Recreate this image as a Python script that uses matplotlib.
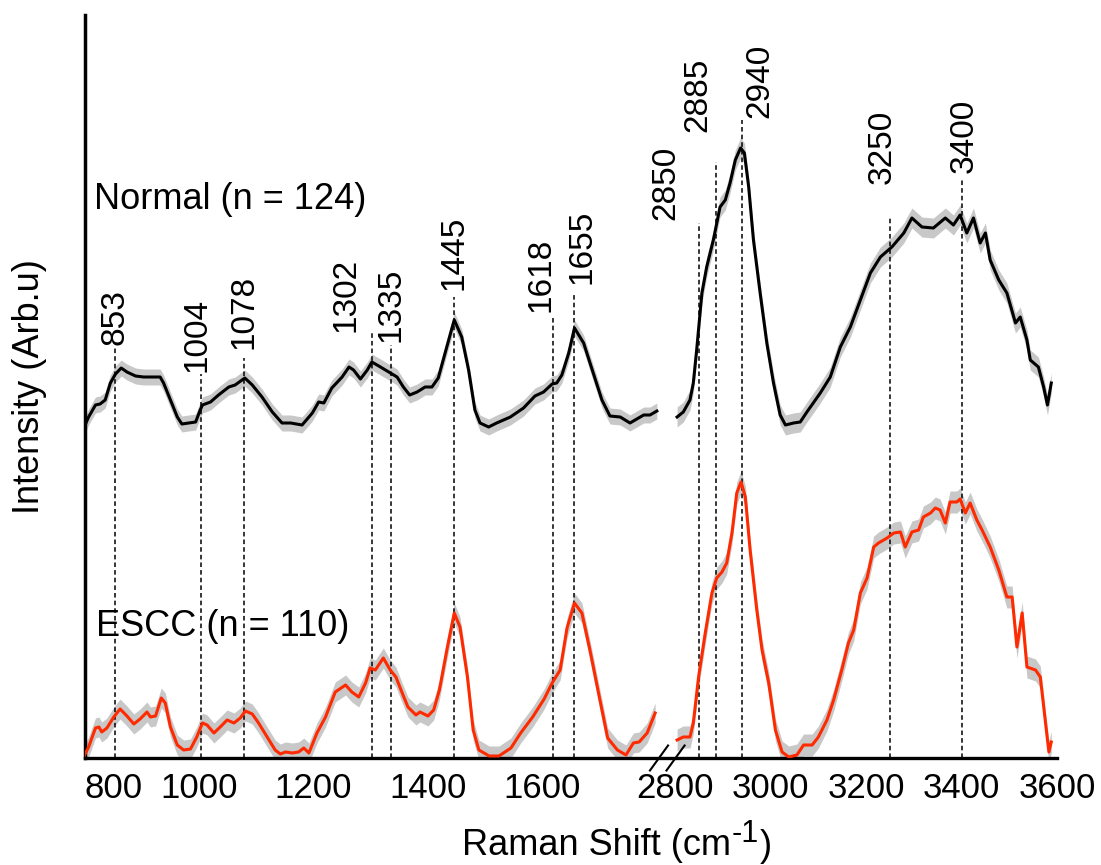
import numpy as np
import matplotlib
matplotlib.use("Agg")
import matplotlib.pyplot as plt

plt.rcParams['font.family'] = ['Liberation Sans', 'DejaVu Sans']

# Средние спектры (левая часть: 800-1800, правая часть: 2800-3600)
normal_left_wn = [800, 807, 819, 827, 836, 845, 854, 864, 874, 889, 903, 918, 932, 938, 950, 962, 970, 982, 994, 1002,
                  1006, 1020, 1034, 1052, 1063, 1080, 1093, 1110, 1128, 1145, 1160, 1180, 1198, 1209, 1218, 1232, 1250,
                  1262, 1270, 1282, 1294, 1302, 1317, 1346, 1357, 1368, 1381, 1395, 1407, 1418, 1430, 1442, 1446, 1459,
                  1471, 1482, 1491, 1506, 1520, 1544, 1567, 1587, 1602, 1617, 1625, 1634, 1646, 1656, 1672, 1686, 1704,
                  1718, 1736, 1753, 1765, 1777, 1788, 1800]
normal_left_int = [3.32, 3.41, 3.53, 3.54, 3.58, 3.75, 3.84, 3.90, 3.86, 3.82, 3.81, 3.81, 3.81, 3.75, 3.58, 3.41, 3.34,
                   3.35, 3.36, 3.48, 3.53, 3.56, 3.63, 3.71, 3.73, 3.80, 3.73, 3.61, 3.46, 3.35, 3.35, 3.33, 3.45, 3.56,
                   3.55, 3.70, 3.81, 3.91, 3.88, 3.79, 3.88, 3.96, 3.91, 3.81, 3.71, 3.63, 3.66, 3.71, 3.71, 3.80, 4.05,
                   4.30, 4.38, 4.21, 3.88, 3.48, 3.35, 3.31, 3.35, 3.41, 3.50, 3.62, 3.66, 3.74, 3.75, 3.83, 4.05, 4.30,
                   4.15, 3.90, 3.58, 3.42, 3.41, 3.35, 3.39, 3.43, 3.43, 3.47]

normal_right_wn = [2804, 2817, 2831, 2838, 2845, 2856, 2866, 2880, 2894, 2905, 2915, 2926, 2937, 2945, 2954, 2964, 2978,
                   2992, 3006, 3020, 3031, 3048, 3062, 3076, 3104, 3125, 3146, 3167, 3188, 3209, 3230, 3254, 3279, 3296,
                   3317, 3341, 3366, 3383, 3397, 3411, 3425, 3439, 3450, 3460, 3478, 3495, 3513, 3523, 3537, 3544, 3561,
                   3572, 3580, 3588]
normal_right_int = [3.41, 3.46, 3.58, 3.75, 4.08, 4.65, 4.91, 5.18, 5.51, 5.58, 5.75, 5.98, 6.10, 6.05, 5.71, 5.18, 4.65,
                    4.15, 3.75, 3.43, 3.33, 3.35, 3.36, 3.46, 3.65, 3.81, 4.11, 4.31, 4.58, 4.85, 5.01, 5.11, 5.25, 5.40,
                    5.31, 5.30, 5.40, 5.33, 5.43, 5.25, 5.40, 5.15, 5.25, 4.98, 4.78, 4.65, 4.35, 4.41, 4.18, 3.98, 3.91,
                    3.71, 3.53, 3.75]

escc_left_wn = [800, 807, 819, 825, 830, 839, 851, 862, 874, 886, 897, 909, 915, 924, 934, 941, 950, 962, 973, 985,
                996, 1006, 1014, 1026, 1037, 1049, 1061, 1072, 1081, 1093, 1104, 1119, 1133, 1142, 1151, 1163, 1174,
                1183, 1192, 1206, 1221, 1238, 1256, 1267, 1279, 1291, 1299, 1308, 1322, 1334, 1344, 1355, 1365, 1379,
                1386, 1400, 1410, 1420, 1434, 1446, 1456, 1469, 1479, 1489, 1507, 1524, 1545, 1562, 1583, 1603, 1617,
                1631, 1643, 1656, 1669, 1683, 1697, 1714, 1731, 1746, 1759, 1769, 1783, 1797]
escc_left_int = [0.03, 0.11, 0.30, 0.31, 0.26, 0.30, 0.41, 0.49, 0.42, 0.34, 0.39, 0.46, 0.41, 0.42, 0.60, 0.55, 0.31,
                 0.13, 0.08, 0.09, 0.21, 0.35, 0.33, 0.25, 0.31, 0.38, 0.35, 0.40, 0.47, 0.44, 0.35, 0.21, 0.08, 0.04,
                 0.06, 0.05, 0.06, 0.10, 0.05, 0.25, 0.41, 0.66, 0.73, 0.66, 0.61, 0.75, 0.90, 0.88, 1.00, 0.88, 0.81,
                 0.65, 0.51, 0.43, 0.46, 0.42, 0.48, 0.68, 1.11, 1.45, 1.31, 0.81, 0.28, 0.08, 0.02, 0.02, 0.10, 0.25,
                 0.41, 0.59, 0.75, 0.88, 1.30, 1.55, 1.45, 1.08, 0.68, 0.20, 0.08, 0.03, 0.15, 0.16, 0.25, 0.45]

escc_right_wn = [2804, 2817, 2831, 2838, 2849, 2863, 2877, 2887, 2898, 2908, 2919, 2929, 2938, 2947, 2957, 2971, 2982,
                 2996, 3010, 3024, 3038, 3055, 3069, 3087, 3100, 3118, 3132, 3149, 3163, 3174, 3188, 3202, 3216, 3226,
                 3244, 3258, 3272, 3282, 3296, 3310, 3320, 3335, 3345, 3355, 3366, 3376, 3390, 3397, 3408, 3418, 3432,
                 3443, 3460, 3478, 3495, 3506, 3516, 3527, 3537, 3555, 3565, 3576, 3583, 3588]
escc_right_int = [0.18, 0.21, 0.21, 0.35, 0.81, 1.25, 1.65, 1.80, 1.86, 1.95, 2.25, 2.65, 2.76, 2.61, 2.08, 1.48, 1.08,
                  0.75, 0.28, 0.06, 0.01, 0.03, 0.13, 0.13, 0.21, 0.38, 0.58, 0.88, 1.15, 1.28, 1.65, 1.80, 2.11, 2.15,
                  2.20, 2.25, 2.26, 2.11, 2.26, 2.28, 2.41, 2.45, 2.50, 2.48, 2.35, 2.56, 2.56, 2.59, 2.45, 2.55, 2.38,
                  2.28, 2.11, 1.88, 1.61, 1.61, 1.11, 1.45, 0.91, 0.88, 0.81, 0.35, 0.06, 0.16]

# Стандартное отклонение (полоса)
normal_sd = [0.08, 0.10]
escc_sd = [0.10, 0.11]

# Пики
peaks = [853, 1004, 1078, 1302, 1335, 1445, 1618, 1655, 2850, 2885, 2940, 3250, 3400]
peak_tops = [4.11, 3.84, 4.00, 4.25, 4.13, 4.61, 4.41, 4.63, 5.35, 5.96, 6.38, 5.41, 5.78]
label_dx = [0, -4, 0, -26, 0, 0, -12, 8, -33, -18, 18, -8, 3]
label_dy = [2, 2, 9, 1, 3, 7, 5, 11, 3, 30, 2, 33, 7]

xticks = [800, 1000, 1200, 1400, 1600, 2800, 3000, 3200, 3400, 3600]


# Разрыв оси: 1800 -> 2800
def fwd(x):
    x = np.asarray(x, dtype=float)
    return np.where(x <= 1800, x,
                    np.where(x >= 2800, 1832 + (x - 2800) * 0.834, 1800 + (x - 1800) * 0.032))


def inv(u):
    u = np.asarray(u, dtype=float)
    return np.where(u <= 1800, u,
                    np.where(u >= 1832, 2800 + (u - 1832) / 0.834, 1800 + (u - 1800) / 0.032))


fig = plt.figure(figsize=(11.01, 8.65), dpi=100)
ax = fig.add_axes([84.6 / 1101, 107 / 865, 972.4 / 1101, 743 / 865])
ax.set_xscale('function', functions=(fwd, inv))

segments = [
    (normal_left_wn, normal_left_int, normal_sd[0], 'black'),
    (normal_right_wn, normal_right_int, normal_sd[1], 'black'),
    (escc_left_wn, escc_left_int, escc_sd[0], '#ff2a00'),
    (escc_right_wn, escc_right_int, escc_sd[1], '#ff2a00'),
]
for wn, inten, sd, col in segments:
    wn = np.array(wn)
    inten = np.array(inten)
    ax.fill_between(wn, inten - sd, inten + sd, color='#c8c8c8', lw=0, zorder=2)
    ax.plot(wn, inten, color=col, lw=2.2, zorder=4)

# Линии пиков и подписи
ax.vlines(peaks, 0, peak_tops, colors='black', linestyles=(0, (3, 2)), lw=1.1, zorder=3)
for p, top, dx, dy in zip(peaks, peak_tops, label_dx, label_dy):
    ax.annotate(str(p), xy=(p, top), xytext=(dx * 0.72, dy * 0.72), textcoords='offset points',
                rotation=90, ha='center', va='bottom', fontsize=24)

ax.text(816, 5.49, "Normal (n = 124)", fontsize=26, ha='left', va='baseline')
ax.text(820, 1.22, "ESCC (n = 110)", fontsize=26, ha='left', va='baseline')

ax.set_xlim(800, 3600)
ax.set_ylim(0, 7.43)
ax.set_xticks(xticks)
ax.set_xticklabels([str(t) for t in xticks])
ax.get_xticklabels()[0].set_horizontalalignment('left')
ax.set_yticks([])
ax.tick_params(axis='x', length=0, pad=10, labelsize=25)
ax.spines['top'].set_visible(False)
ax.spines['right'].set_visible(False)
ax.spines['left'].set_linewidth(2.5)
ax.spines['bottom'].set_linewidth(2.4)

# Знак разрыва
for cx in (0.5907, 0.6077):
    ax.plot([cx - 0.0093, cx + 0.0093], [-0.0168, 0.0168], color='black', lw=1.5,
            transform=ax.transAxes, clip_on=False, zorder=5)

# Подписи осей
fig.text(30 / 1101, 1 - 387 / 865, "Intensity (Arb.u)", rotation=90, ha='center', va='center', fontsize=26)
t1 = fig.text(462 / 1101, 1 - 855 / 865, "Raman Shift (cm", fontsize=26, ha='left', va='baseline')
sup = ax.annotate("-1", xy=(1, 0), xycoords=t1, xytext=(0.5, 14.8), textcoords='offset points',
                  fontsize=22, ha='left', va='baseline', annotation_clip=False)
ax.annotate(")", xy=(1, 0), xycoords=sup, xytext=(0.5, -4.7), textcoords='offset points',
            fontsize=26, ha='left', va='baseline', annotation_clip=False)

fig.savefig("out.png", dpi=100)
